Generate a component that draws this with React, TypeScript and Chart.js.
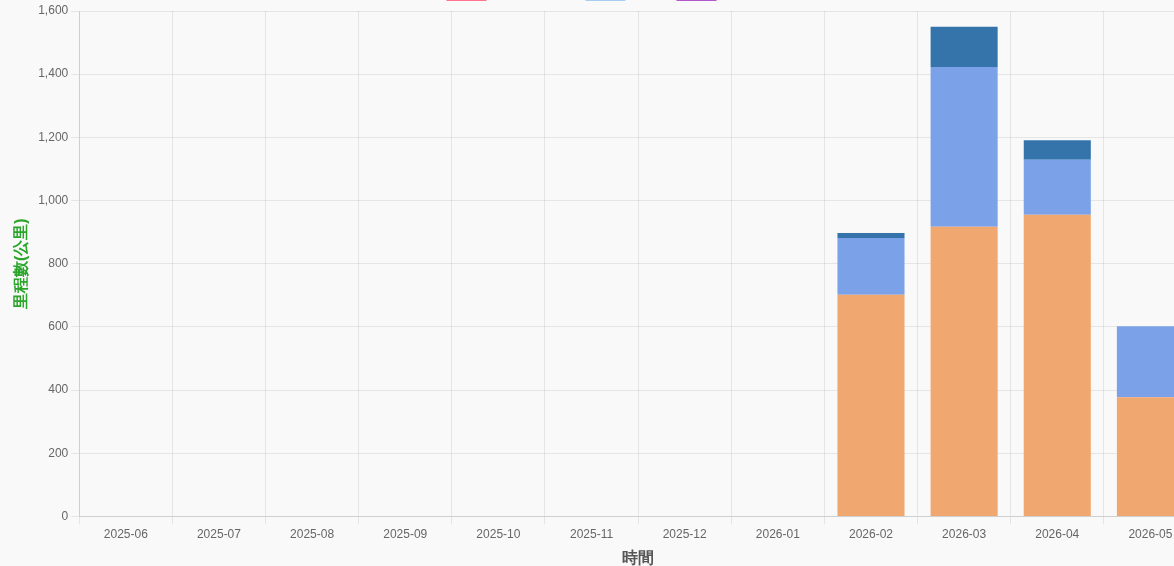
import React, { useEffect, useRef } from "react";
import { Chart, registerables } from "chart.js";

Chart.register(...registerables);

const months = [
  "2025-06", "2025-07", "2025-08", "2025-09", "2025-10", "2025-11",
  "2025-12", "2026-01", "2026-02", "2026-03", "2026-04", "2026-05",
];
const seriesNames = ["大眾運輸里程數", "電動車", "自行車"];
const seriesA = [0, 0, 0, 0, 0, 0, 0, 0, 702, 917, 955, 377];
const seriesB = [0, 0, 0, 0, 0, 0, 0, 0, 179, 506, 174, 225];
const seriesC = [0, 0, 0, 0, 0, 0, 0, 0, 16, 127, 62, 0];
const yTicksMax = 1600;
const yStep = 200;

const barColors = ["#F0A870", "#7BA2E8", "#3574AB"];
const legendColors = ["rgba(255,99,132,0.9)", "rgba(160,200,240,0.9)", "rgba(170,70,200,0.9)"];

export default function App() {
  const ref = useRef<HTMLCanvasElement | null>(null);
  useEffect(() => {
    if (!ref.current) return;
    const chart = new Chart(ref.current, {
      type: "bar",
      data: {
        labels: months,
        datasets: [
          { label: seriesNames[0], data: seriesA, backgroundColor: barColors[0] },
          { label: seriesNames[1], data: seriesB, backgroundColor: barColors[1] },
          { label: seriesNames[2], data: seriesC, backgroundColor: barColors[2] },
        ],
      },
      options: {
        animation: false,
        responsive: true,
        maintainAspectRatio: false,
        plugins: {
          legend: {
            labels: {
              color: "#666",
              padding: 9,
              font: { size: 12 },
              generateLabels: (c: any) =>
                c.data.datasets.map((ds: any, i: number) => ({
                  text: ds.label,
                  fillStyle: legendColors[i],
                  strokeStyle: legendColors[i],
                  lineWidth: 0,
                  hidden: false,
                  datasetIndex: i,
                  fontColor: "#666",
                })),
            },
          },
          tooltip: { enabled: false },
        },
        scales: {
          x: {
            stacked: true,
            grid: { color: "rgba(0,0,0,0.08)" },
            ticks: { color: "#666", font: { size: 12 } },
            title: {
              display: true,
              text: "時間",
              color: "#555",
              font: { size: 16, weight: "bold" },
            },
          },
          y: {
            stacked: true,
            min: 0,
            max: yTicksMax,
            grid: { color: "rgba(0,0,0,0.08)" },
            ticks: { stepSize: yStep, color: "#666", font: { size: 12 } },
            title: {
              display: true,
              text: "里程數(公里)",
              color: "#2aa52a",
              font: { size: 16, weight: "bold" },
            },
          },
        },
      },
    });
    return () => chart.destroy();
  }, []);

  return (
    <div
      style={{
        position: "fixed",
        left: 0,
        top: 0,
        width: 1174,
        height: 566,
        overflow: "hidden",
        background: "#f9f9f9",
      }}
    >
      <div style={{ position: "absolute", left: 8, top: -20, width: 1189, height: 592 }}>
        <canvas ref={ref} />
      </div>
    </div>
  );
}
